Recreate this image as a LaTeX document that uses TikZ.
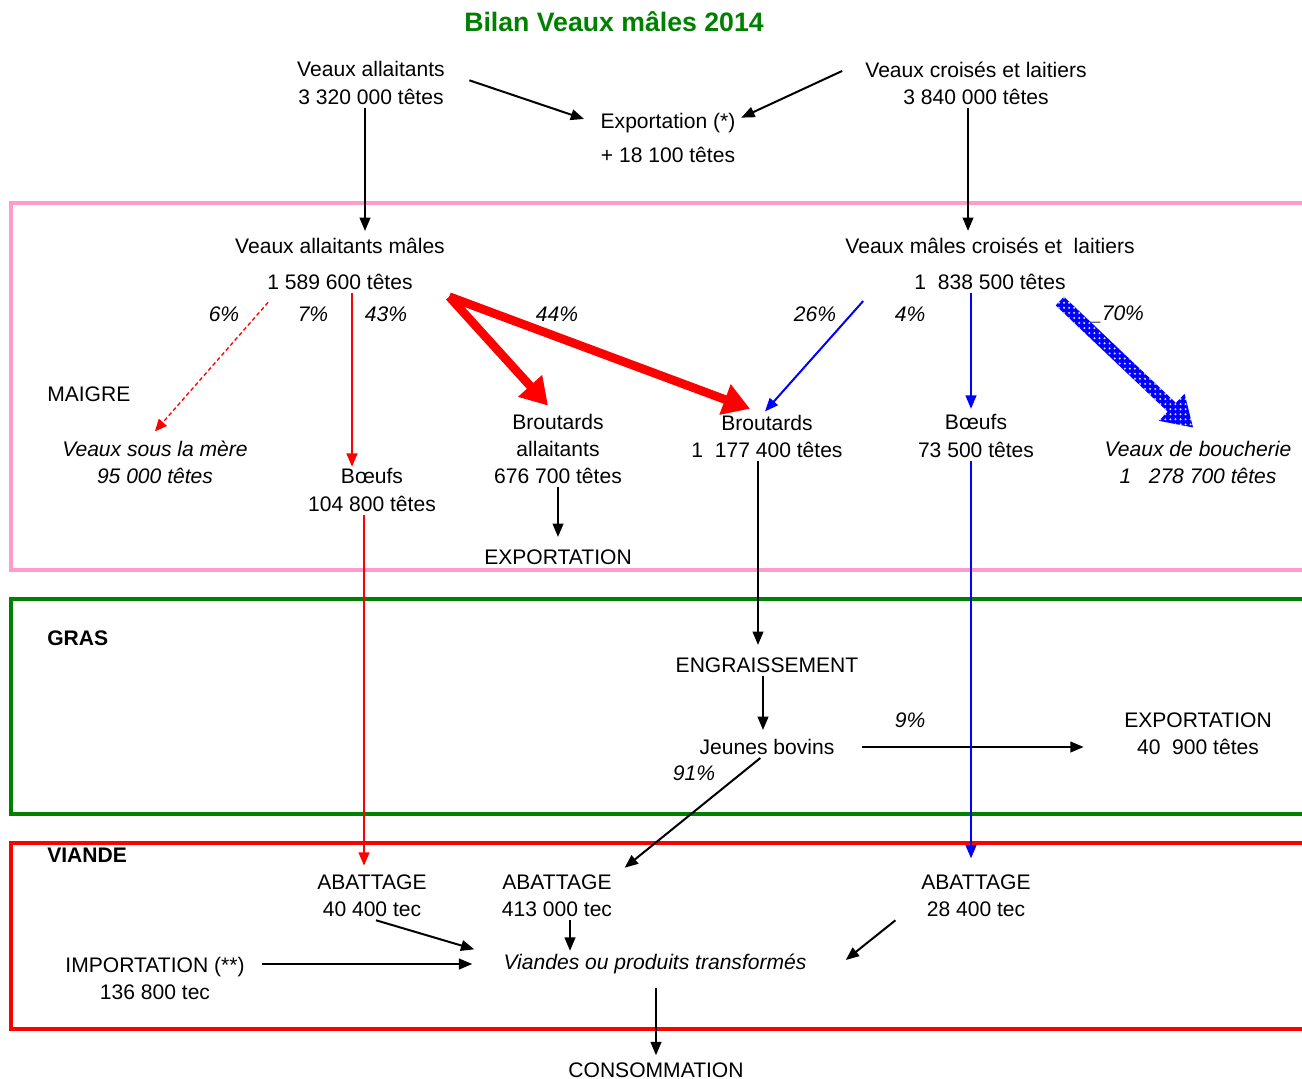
\documentclass[tikz,border=0pt]{standalone}
\usepackage{fontspec}
\setmainfont{Liberation Sans}
\usetikzlibrary{arrows.meta,calc,patterns}

\definecolor{titlegreen}{RGB}{0,128,0}
\definecolor{maigrepink}{RGB}{255,155,205}

% white dots on the blue arrow
\pgfdeclarepatternformonly{whitedots}{\pgfqpoint{-1pt}{-1pt}}{\pgfqpoint{1pt}{1pt}}{\pgfqpoint{3.8pt}{3.8pt}}{%
  \pgfpathcircle{\pgfqpoint{0pt}{0pt}}{0.85pt}\pgfusepath{fill}}

\begin{document}
\begin{tikzpicture}[
  x=0.75pt, y=-0.75pt,
  every node/.style={font=\fontsize{15.8}{20.3}\selectfont, inner sep=2.25pt, align=center},
  ttl/.style={font=\fontsize{20}{24}\selectfont\bfseries, text=titlegreen},
  pct/.style={font=\fontsize{15.8}{20.3}\selectfont\itshape},
  zone/.style={font=\fontsize{15.8}{20.3}\selectfont\bfseries, anchor=west},
  arr/.style={-{Triangle[length=10pt,width=8pt]}, line width=1.5pt},
  fat/.style={red, line width=6.5pt, -{Triangle[length=20pt,width=23pt]}},
  zonebox/.style={line width=2.3pt}
]
  \useasboundingbox (0,0) rectangle (1302,1078);

  % Zones
  \draw[zonebox, maigrepink] (11,203) rectangle (1320,570);
  \draw[zonebox, titlegreen] (11,599) rectangle (1320,814);
  \draw[zonebox, red] (11,843) rectangle (1320,1029);

  % Nodes
  \node[ttl] (title) at (614,22) {Bilan Veaux mâles 2014};
  \node (va) at (371,83) {Veaux allaitants\\3 320 000 têtes};
  \node (vc) at (976,83) {Veaux croisés et laitiers\\3 840 000 têtes};
  \node (expo) at (668,123) {Exportation (*)};
  \node (expon) at (668,155) {+ 18 100 têtes};

  \node (vam) at (340,246) {Veaux allaitants mâles};
  \node (vamn) at (340,282) {1 589 600 têtes};
  \node (vcm) at (990,246) {Veaux mâles croisés et\ \ laitiers};
  \node (vcmn) at (990,282) {1\ \ 838 500 têtes};
  \node[anchor=west] (maigre) at (44,394) {MAIGRE};
  \node[pct] (vsm) at (155,462) {Veaux sous la mère\\95 000 têtes};
  \node (bo1) at (372,490) {Bœufs\\104 800 têtes};
  \node (bra) at (558,449) {Broutards\\allaitants\\676 700 têtes};
  \node (br) at (767,436) {Broutards\\1\ \ 177 400 têtes};
  \node (bo2) at (976,436) {Bœufs\\73 500 têtes};
  \node[pct] (vb) at (1198,462) {Veaux de boucherie\\1\ \ \ 278 700 têtes};
  \node (expa) at (558,557) {EXPORTATION};

  \node[pct] (p6) at (224,314) {6\%};
  \node[pct] (p7) at (313,314) {7\%};
  \node[pct] (p43) at (386,314) {43\%};
  \node[pct] (p44) at (557,314) {44\%};
  \node[pct] (p26) at (815,314) {26\%};
  \node[pct] (p4) at (910,314) {4\%};
  \node[pct] (p70) at (1117,314) {\_70\%};

  \node[zone] (gras) at (44,638) {GRAS};
  \node (eng) at (767,665) {ENGRAISSEMENT};
  \node (jb) at (767,747) {Jeunes bovins};
  \node (expb) at (1198,734) {EXPORTATION\\40\ \ 900 têtes};
  \node[pct] (p9) at (910,720) {9\%};
  \node[pct] (p91) at (694,773) {91\%};

  \node[zone] (viande) at (44,855) {VIANDE};
  \node (ab1) at (372,896) {ABATTAGE\\40 400 tec};
  \node (ab2) at (557,896) {ABATTAGE\\413 000 tec};
  \node (ab3) at (976,896) {ABATTAGE\\28 400 tec};
  \node (imp) at (155,978) {IMPORTATION (**)\\136 800 tec};
  \node[pct] (vpt) at (655,964) {Viandes ou produits transformés};
  \node (cons) at (656,1070) {CONSOMMATION};

  % Arrows: births
  \draw[arr] ([xshift=16pt,yshift=2pt]va.east) -- ([xshift=-10pt,yshift=3pt]expo.west);
  \draw[arr] ([xshift=-15pt,yshift=9pt]vc.west) -- ([xshift=2pt,yshift=4pt]expo.east);
  \draw[arr] ([xshift=-4.5pt]va.south) -- ([xshift=-4.5pt,yshift=3pt]va.south |- vam.north);
  \draw[arr] ([xshift=-6pt]vc.south) -- ([xshift=-6pt,yshift=3pt]vc.south |- vcm.north);

  % Arrows: maigre
  \draw[red, densely dashed, line width=1pt, -{Triangle[length=9pt,width=8pt]}]
    ([xshift=3pt,yshift=-7pt]vamn.south west) -- ([yshift=4.5pt]vsm.north);
  \draw[arr, red, shorten >=-1pt] ([xshift=9pt]vamn.south) -- ([xshift=9pt]vamn.south |- bo1.north);
  \draw[fat] ([xshift=25pt,yshift=-11pt]vamn.east) -- ([xshift=-7.5pt,yshift=4pt]bra.north);
  \draw[fat] ([xshift=25pt,yshift=-11pt]vamn.east) -- ([xshift=-12.75pt,yshift=2pt]br.north);
  \draw[arr, blue] ([xshift=-36pt,yshift=-6pt]vcmn.south west) -- ([xshift=-1.5pt]br.north);
  \draw[arr, blue] ([xshift=-14.25pt]vcmn.south) -- ([xshift=-14.25pt,yshift=2pt]vcmn.south |- bo2.north);

  % dotted blue arrow to veaux de boucherie
  \coordinate (h0) at ([xshift=-6.75pt,yshift=-6pt]vcmn.south east);
  \coordinate (h1) at ([xshift=-3.75pt,yshift=7.5pt]vb.north);
  \coordinate (hb) at ($(h1)!22pt!(h0)$);
  \fill[blue, postaction={pattern=whitedots, pattern color=white!85!blue}]
    ($(h0)!4.5pt!90:(h1)$) -- ($(hb)!4.5pt!-90:(h0)$) -- ($(hb)!14pt!-90:(h0)$) -- (h1)
    -- ($(hb)!14pt!90:(h0)$) -- ($(hb)!4.5pt!90:(h0)$) -- ($(h0)!4.5pt!-90:(h1)$) -- cycle;

  \draw[arr, shorten >=7pt] (bra.south) -- (expa.north);
  \draw[arr, shorten >=7pt] ([xshift=-6.75pt]br.south) -- ([xshift=-6.75pt]br.south |- eng.north);

  % Arrows: gras
  \draw[arr, shorten >=4.5pt] ([xshift=-3pt]eng.south) -- ([xshift=-3pt]eng.south |- jb.north);
  \draw[arr, shorten <=18pt, shorten >=28pt] (jb.east) -- (jb.east -| expb.west);
  \draw[arr] ([xshift=-5pt]jb.south) -- ([xshift=7pt,yshift=3pt]ab2.north east);
  \draw[arr, red, shorten >=4.5pt] ([xshift=-6pt]bo1.south) -- ([xshift=-6pt]bo1.south |- ab1.north);
  \draw[arr, blue, shorten >=10pt] ([xshift=-3.75pt]bo2.south) -- ([xshift=-3.75pt]bo2.south |- ab3.north);

  % Arrows: viande
  \draw[arr] ([xshift=3pt]ab1.south) -- ([xshift=-19.5pt,yshift=11pt]vpt.west);
  \draw[arr] ([xshift=9.75pt]ab2.south) -- ([xshift=9.75pt]ab2.south |- vpt.north);
  \draw[arr] ([xshift=11pt]imp.east |- vpt.west) -- ([xshift=-21pt]vpt.west);
  \draw[arr] ([xshift=-17pt]ab3.south west) -- ([xshift=27pt,yshift=3pt]vpt.east);
  \draw[arr, shorten <=8pt, shorten >=3pt] (vpt.south -| cons.north) -- (cons.north);
\end{tikzpicture}
\end{document}
